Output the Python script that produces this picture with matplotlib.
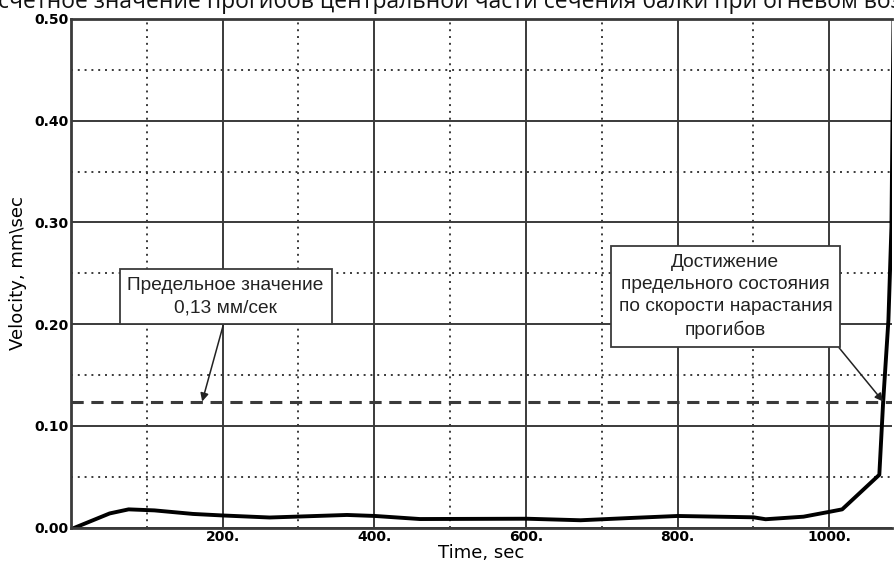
import matplotlib
matplotlib.use("Agg")
import matplotlib.pyplot as plt
from matplotlib.ticker import MultipleLocator, FixedLocator

# Curve
time_s = [5, 51, 76, 110, 161, 200, 262, 364, 401, 460, 601, 672, 737, 800,
          900, 916, 966, 1001, 1017, 1066, 1071, 1078, 1082, 1086]
velocity = [0.0, 0.0140, 0.018, 0.017, 0.0135, 0.012, 0.010, 0.0125, 0.0115,
            0.0085, 0.0088, 0.0073, 0.0095, 0.0115, 0.0102, 0.0083, 0.0108,
            0.0157, 0.018, 0.052, 0.123, 0.204, 0.296, 0.6]

limit_value = 0.124
x_ticks = [200, 400, 600, 800, 1000]
x_tick_labels = ["200.", "400.", "600.", "800.", "1000."]
y_ticks = [0.0, 0.1, 0.2, 0.3, 0.4, 0.5]
y_tick_labels = ["0.00", "0.10", "0.20", "0.30", "0.40", "0.50"]

title_text = "счетное значение прогибов центральной части сечения балки при огневом воздействии"
note_limit = "Предельное значение\n0,13 мм/сек"
note_state = "Достижение\nпредельного состояния\nпо скорости нарастания\nпрогибов"

sans = ["Liberation Sans", "DejaVu Sans"]

fig = plt.figure(figsize=(8.94, 5.64), dpi=100)
ax = fig.add_axes([0.0794, 0.0644, 0.9186, 0.902])

ax.set_xlim(0, 1083)
ax.set_ylim(0, 0.5)

# grid: solid majors, dotted minors
ax.xaxis.set_major_locator(FixedLocator(x_ticks))
ax.xaxis.set_minor_locator(MultipleLocator(100))
ax.yaxis.set_major_locator(FixedLocator(y_ticks))
ax.yaxis.set_minor_locator(MultipleLocator(0.05))
ax.grid(which="major", color="#3a3a3a", linestyle="-", linewidth=1.4)
ax.grid(which="minor", color="#3a3a3a", linestyle=(0, (1, 2.5)), linewidth=1.4)
ax.set_axisbelow(True)

ax.set_xticklabels(x_tick_labels, fontweight="bold", fontsize=10)
ax.set_yticklabels(y_tick_labels, fontweight="bold", fontsize=10)
ax.tick_params(which="both", length=0, pad=2)

for side in ["top", "bottom", "left", "right"]:
    ax.spines[side].set_color("#3a3a3a")
    ax.spines[side].set_linewidth(2)
ax.spines["right"].set_visible(False)

ax.set_xlabel("Time, sec", fontsize=13, labelpad=0)
ax.set_ylabel("Velocity, mm\\sec", fontsize=13, labelpad=5)

# limit line and the velocity curve
ax.axhline(limit_value, color="#3a3a3a", linestyle=(0, (4, 2.5)), linewidth=2.2)
ax.plot(time_s, velocity, color="black", linewidth=2.8)

# callouts
box = dict(boxstyle="square,pad=0.4", facecolor="white", edgecolor="#3a3a3a", linewidth=1.3)
arrow = dict(arrowstyle="-|>", color="#222222", linewidth=1.1, mutation_scale=12,
             shrinkA=0, shrinkB=0)
ax.annotate(note_limit, xy=(173, limit_value), xytext=(204, 0.227),
            ha="center", va="center", fontsize=13.8, family=sans,
            color="#222222", linespacing=1.4, bbox=box,
            arrowprops=dict(arrow, relpos=(0.5, 0.0)))
ax.annotate(note_state, xy=(1071, limit_value), xytext=(863, 0.227),
            ha="center", va="center", fontsize=13.8, family=sans,
            color="#222222", linespacing=1.4, bbox=box,
            arrowprops=dict(arrow, relpos=(1.0, 0.0)))

# clipped title on top edge, as in the source picture
fig.text(-0.002, 0.986, title_text, ha="left", va="baseline", fontsize=16.5,
         family=["Open Sans", "DejaVu Sans"], color="#111111")

fig.savefig("out.png", dpi=100)
